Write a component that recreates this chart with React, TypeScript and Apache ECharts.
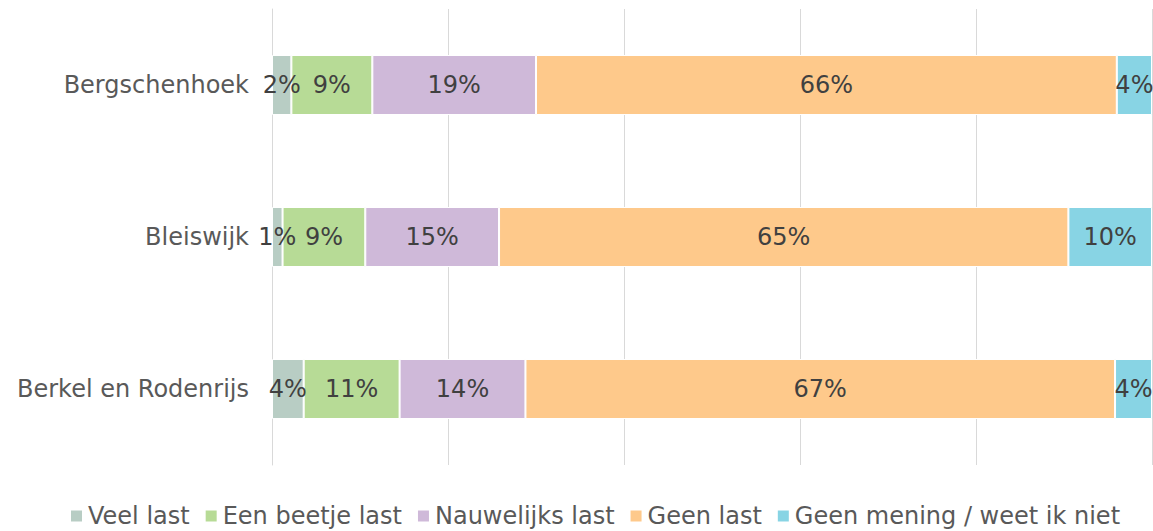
import React, { useEffect, useRef } from "react";
import * as echarts from "echarts";

const categories = ["Bergschenhoek", "Bleiswijk", "Berkel en Rodenrijs"];
const seriesNames = ["Veel last", "Een beetje last", "Nauwelijks last", "Geen last", "Geen mening / weet ik niet"];
const veelLast = [2.2, 1.2, 3.6];
const beetjeLast = [9.2, 9.4, 10.9];
const nauwelijksLast = [18.6, 15.2, 14.3];
const geenLast = [66.0, 64.7, 67.0];
const geenMening = [4.0, 9.5, 4.2];
const colors = ["#b8cdc4", "#b7db96", "#cfb9d9", "#fec98b", "#88d4e4"];

const FONT = "'DejaVu Sans', Verdana, sans-serif";

export default function App() {
  const ref = useRef<HTMLDivElement>(null);
  useEffect(() => {
    if (!ref.current) return;
    const chart = echarts.init(ref.current, undefined, { renderer: "svg" });
    const values = [veelLast, beetjeLast, nauwelijksLast, geenLast, geenMening];
    chart.setOption({
      animation: false,
      textStyle: { fontFamily: FONT },
      color: colors,
      grid: { left: 272, right: 1, top: 9, bottom: 66, containLabel: false },
      legend: {
        data: seriesNames,
        left: 69,
        top: 502,
        padding: 0,
        icon: "rect",
        itemWidth: 13,
        itemHeight: 13,
        itemGap: 14,
        textStyle: { fontFamily: FONT, fontSize: 24, lineHeight: 28, color: "#595959" },
      },
      xAxis: {
        type: "value",
        min: 0,
        max: 100,
        interval: 20,
        axisLabel: { show: false },
        axisLine: { show: false },
        axisTick: { show: false },
        splitLine: { show: true, lineStyle: { color: "#d9d9d9", width: 1 } },
      },
      yAxis: {
        type: "category",
        inverse: true,
        data: categories,
        axisLine: { show: true, lineStyle: { color: "#d9d9d9", width: 1 } },
        axisTick: { show: false },
        axisLabel: { fontFamily: FONT, fontSize: 24, color: "#595959", margin: 23 },
      },
      series: seriesNames.map((name, i) => ({
        name,
        type: "bar",
        stack: "total",
        barWidth: 60,
        data: values[i],
        itemStyle: { color: colors[i], borderColor: "#ffffff", borderWidth: 1 },
        label: {
          show: true,
          position: "inside",
          fontFamily: FONT,
          fontSize: 24,
          color: "#404040",
          formatter: (p: any) => Math.round(p.value) + "%",
        },
      })),
    });
    return () => chart.dispose();
  }, []);
  return (
    <div
      ref={ref}
      style={{ position: "fixed", left: 0, top: 0, width: 1153, height: 531, background: "#fff" }}
    />
  );
}
